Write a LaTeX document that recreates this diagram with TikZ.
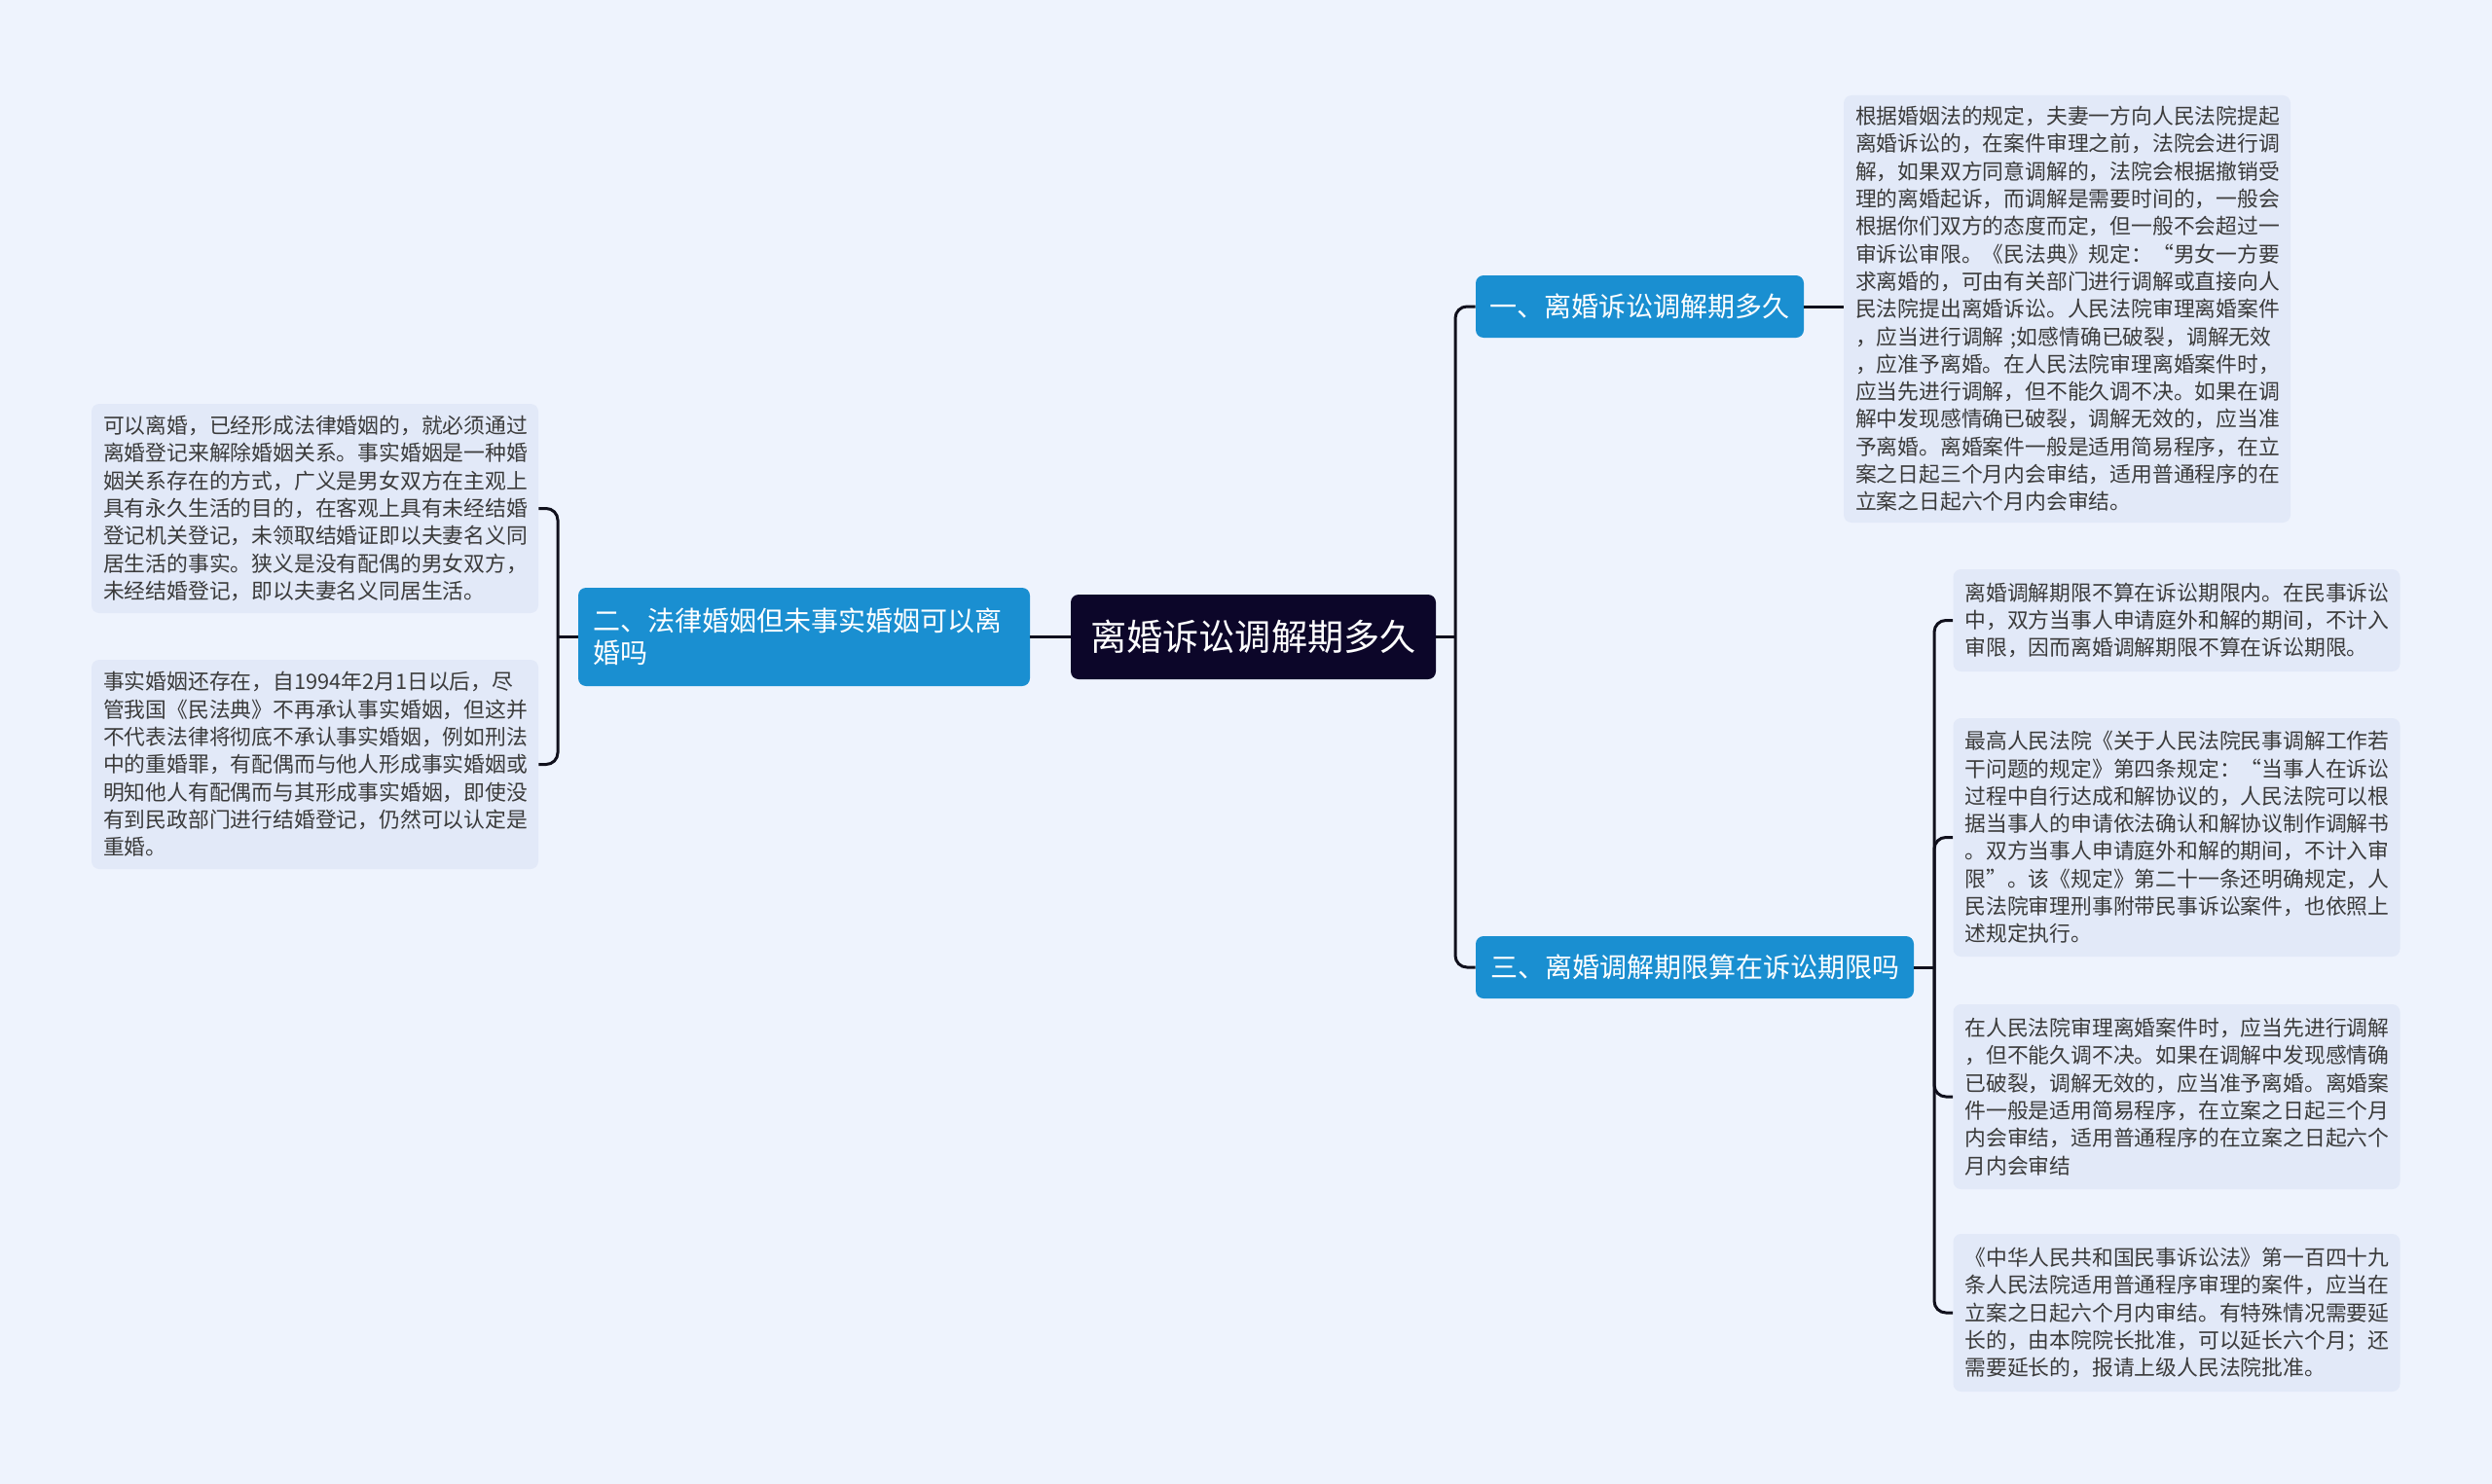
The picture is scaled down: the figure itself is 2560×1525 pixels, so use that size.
\documentclass[tikz,border=0pt]{standalone}
\usepackage{fontspec}
\setmainfont{Noto Sans CJK SC}
\usepackage{xcolor}
\usepackage{tikz}
\usetikzlibrary{positioning,calc}
\definecolor{canvas}{HTML}{EEF3FD}
\definecolor{rootfill}{HTML}{0C0629}
\definecolor{topicfill}{HTML}{1A8FD1}
\definecolor{leaffill}{HTML}{E2E9F8}
\definecolor{leaftext}{HTML}{3B3B3B}
\definecolor{linkcol}{HTML}{10101C}

\tikzset{
  rootbox/.style={fill=rootfill,text=white,rounded corners=4pt,
    minimum width=187.5pt,minimum height=43.5pt,inner sep=0pt,
    font=\fontsize{18.6pt}{22pt}\selectfont},
  topicbox/.style={fill=topicfill,text=white,rounded corners=4pt,
    minimum height=32pt,inner xsep=7pt,inner ysep=0pt,
    font=\fontsize{14pt}{16.5pt}\selectfont},
  leafbox/.style={fill=leaffill,text=leaftext,rounded corners=4pt,
    align=left,text width=217.5pt,inner xsep=6pt,inner ysep=0pt,
    font=\fontsize{10.9pt}{14.15pt}\selectfont},
  link/.style={draw=linkcol,line width=1.5pt,rounded corners=6pt},
}

\begin{document}
\begin{tikzpicture}[x=0.5pt,y=-0.5pt]
\useasboundingbox[fill=canvas] (0,0) rectangle (2560,1525);

% centre and the three topics
\node[rootbox] (root) at (1287.5,654.5) {离婚诉讼调解期多久};
\node[topicbox,minimum width=168.5pt] (t1) at (1684.5,315) {一、离婚诉讼调解期多久};
\node[topicbox,align=left,text width=217pt,inner xsep=7.5pt,minimum height=50.5pt]
  (t2) at (826,654.5) {二、法律婚姻但未事实婚姻可以离\\婚吗};
\node[topicbox,minimum width=225pt] (t3) at (1741,994) {三、离婚调解期限算在诉讼期限吗};

% leaves of topic one
\node[leafbox,minimum height=219.5pt] (t1a) at (2123.5,317.5) {%
根据婚姻法的规定，夫妻一方向人民法院提起\\
离婚诉讼的，在案件审理之前，法院会进行调\\
解，如果双方同意调解的，法院会根据撤销受\\
理的离婚起诉，而调解是需要时间的，一般会\\
根据你们双方的态度而定，但一般不会超过一\\
审诉讼审限。《民法典》规定：“男女一方要\\
求离婚的，可由有关部门进行调解或直接向人\\
民法院提出离婚诉讼。人民法院审理离婚案件\\
，应当进行调解 ;如感情确已破裂，调解无效\\
，应准予离婚。在人民法院审理离婚案件时，\\
应当先进行调解，但不能久调不决。如果在调\\
解中发现感情确已破裂，调解无效的，应当准\\
予离婚。离婚案件一般是适用简易程序，在立\\
案之日起三个月内会审结，适用普通程序的在\\
立案之日起六个月内会审结。};

% leaves of topic two
\node[leafbox,minimum height=107.5pt] (t2a) at (323.5,522.5) {%
可以离婚，已经形成法律婚姻的，就必须通过\\
离婚登记来解除婚姻关系。事实婚姻是一种婚\\
姻关系存在的方式，广义是男女双方在主观上\\
具有永久生活的目的，在客观上具有未经结婚\\
登记机关登记，未领取结婚证即以夫妻名义同\\
居生活的事实。狭义是没有配偶的男女双方，\\
未经结婚登记，即以夫妻名义同居生活。};
\node[leafbox,minimum height=107.5pt] (t2b) at (323.5,785.5) {%
事实婚姻还存在，自1994年2月1日以后，尽\\
管我国《民法典》不再承认事实婚姻，但这并\\
不代表法律将彻底不承认事实婚姻，例如刑法\\
中的重婚罪，有配偶而与他人形成事实婚姻或\\
明知他人有配偶而与其形成事实婚姻，即使没\\
有到民政部门进行结婚登记，仍然可以认定是\\
重婚。};

% leaves of topic three
\node[leafbox,minimum height=52.5pt] (t3a) at (2236,637.5) {%
离婚调解期限不算在诉讼期限内。在民事诉讼\\
中，双方当事人申请庭外和解的期间，不计入\\
审限，因而离婚调解期限不算在诉讼期限。};
\node[leafbox,minimum height=122.5pt] (t3b) at (2236,860.5) {%
最高人民法院《关于人民法院民事调解工作若\\
干问题的规定》第四条规定：“当事人在诉讼\\
过程中自行达成和解协议的，人民法院可以根\\
据当事人的申请依法确认和解协议制作调解书\\
。双方当事人申请庭外和解的期间，不计入审\\
限”。该《规定》第二十一条还明确规定，人\\
民法院审理刑事附带民事诉讼案件，也依照上\\
述规定执行。};
\node[leafbox,minimum height=95pt] (t3c) at (2236,1127) {%
在人民法院审理离婚案件时，应当先进行调解\\
，但不能久调不决。如果在调解中发现感情确\\
已破裂，调解无效的，应当准予离婚。离婚案\\
件一般是适用简易程序，在立案之日起三个月\\
内会审结，适用普通程序的在立案之日起六个\\
月内会审结};
\node[leafbox,minimum height=81pt] (t3d) at (2236,1349) {%
《中华人民共和国民事诉讼法》第一百四十九\\
条人民法院适用普通程序审理的案件，应当在\\
立案之日起六个月内审结。有特殊情况需要延\\
长的，由本院院长批准，可以延长六个月；还\\
需要延长的，报请上级人民法院批准。};

% joints and connectors
\coordinate (jr) at (1495,654.5);
\coordinate (jl) at (573,654.5);
\coordinate (j3) at (1987,994);
\draw[link] (root.east) -- (jr);
\draw[link] (t1.west) -| (jr) |- (t3.west);
\draw[link] (root.west) -- (t2.east);
\draw[link] (t2.west) -- (jl);
\draw[link] (t2a.east) -| (jl) |- (t2b.east);
\draw[link] (t1.east) -- (t1.east -| t1a.west);
\draw[link] (t3.east) -- (j3);
\draw[link] (t3a.west) -| (j3) |- (t3d.west);
\draw[link] (t3b.west) -| (j3);
\draw[link] (t3c.west) -| (j3);
\end{tikzpicture}
\end{document}
